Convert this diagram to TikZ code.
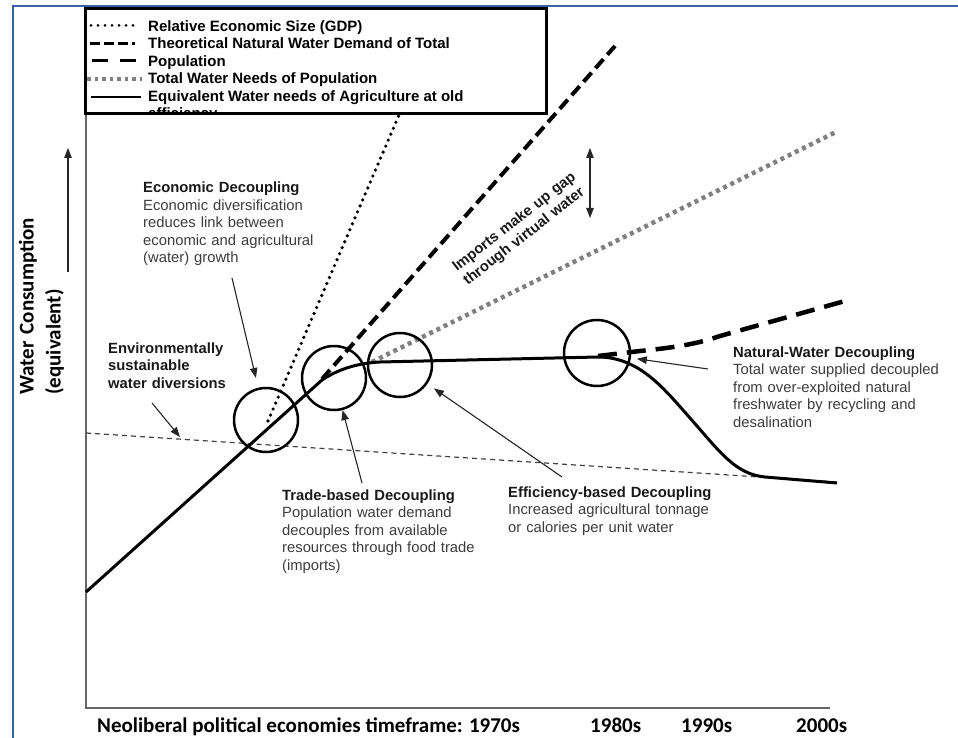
\documentclass[tikz,border=0pt]{standalone}
\usepackage{fontspec}
\setmainfont{Liberation Sans}
\newfontfamily\axisfont{Carlito}
\usetikzlibrary{arrows.meta}
\definecolor{frameblue}{RGB}{58,96,164}
\definecolor{notegray}{RGB}{60,60,60}
\definecolor{needsgray}{RGB}{128,128,128}
\newcommand{\notetitle}[1]{\textbf{\color{black!90}#1}}
\tikzset{
  ring/.style={circle, draw, line width=2.5pt, minimum size=64pt, inner sep=0pt},
  pointer/.style={->, draw=black!85, line width=1.1pt},
  note/.style={anchor=base west, inner sep=0pt, align=left, text width=240pt,
    font=\fontsize{14.8}{17.5}\selectfont, text=notegray},
  tag/.style={note, font=\bfseries\fontsize{14.8}{17.5}\selectfont, text=black!90},
  key/.style={anchor=base west, inner sep=0pt, font=\bfseries\fontsize{15}{17.5}\selectfont},
  axislabel/.style={anchor=base west, inner sep=0pt, font=\axisfont\bfseries\fontsize{21}{27}\selectfont},
  agri/.style={line width=3pt},
  gdp/.style={line width=3.6pt, dash pattern=on 0pt off 6.5pt, line cap=round},
  demand/.style={line width=4pt, dash pattern=on 12pt off 6pt},
  needs/.style={line width=4.5pt, needsgray, dash pattern=on 4pt off 4pt},
  pop/.style={line width=4.5pt, dash pattern=on 19pt off 10pt},
  limit/.style={line width=1.2pt, black!75, dash pattern=on 5pt off 4pt}
}
\begin{document}
\begin{tikzpicture}[x=1pt, y=-1pt, >={Triangle[length=10pt,width=7.5pt]}]
\useasboundingbox (0,0) rectangle (958,738);
\draw[frameblue, line width=2pt] (13,738) -- (13,6) -- (958,6);
\draw[black!60, line width=1.5pt] (86,112) -- (86,708) -- (830,708);

\draw[limit] (86,433) -- (836,482);
\draw[gdp] (268,421) -- (402,108);
\draw[demand] (322,379) -- (615,46);
\draw[needs] (372,362) -- (836,132);
\draw[pop] (598,356) -- (640,351) .. controls (680,347) and (700,343) .. (720,336) -- (845,301);
\draw[agri] (86,592) -- (322,380) .. controls (340,368) and (360,363) .. (380,362) -- (598,357)
  .. controls (640,357) and (665,390) .. (690,418) .. controls (720,452) and (735,474) .. (765,477) -- (837,483);

\node[ring] (econring) at (266,420) {};
\node[ring] (tradering) at (334,378) {};
\node[ring] (effring) at (400,365) {};
\node[ring, minimum size=66pt] (natring) at (597,353) {};

\node[note] (econ) at (143,193) {\notetitle{Economic Decoupling}\\Economic diversification\\reduces link between\\economic and agricultural\\(water) growth};
\node[tag] (env) at (108,353) {Environmentally\\sustainable\\water diversions};
\node[tag, rotate=38] (imports) at (457,272) {Imports make up gap\\through virtual water};
\node[note] (trade) at (282,500) {\notetitle{Trade-based Decoupling}\\Population water demand\\decouples from available\\resources through food trade\\(imports)};
\node[note] (eff) at (508,497) {\notetitle{Efficiency-based Decoupling}\\Increased agricultural tonnage\\or calories per unit water};
\node[note, text width=215pt] (nat) at (733,357) {\notetitle{Natural-Water Decoupling}\\Total water supplied decoupled\\from over-exploited natural\\freshwater by recycling and\\desalination};

\coordinate (econtail) at (232,278);
\coordinate (envtail) at (152,403);
\coordinate (envtip) at (180,437);
\coordinate (tradetail) at (362,483);
\coordinate (efftail) at (562,477);
\coordinate (nattail) at (708,369);
\coordinate (gaptop) at (590,148);
\coordinate (gapbottom) at (590,218);
\coordinate (ytail) at (68,272);
\coordinate (ytip) at (68,148);
\draw[pointer, shorten >=10pt] (econtail) -- (econring);
\draw[pointer] (envtail) -- (envtip);
\draw[pointer] (tradetail) -- (tradering);
\draw[pointer, shorten >=8pt] (efftail) -- (effring);
\draw[pointer, shorten >=6pt] (nattail) -- (natring);
\draw[pointer, <->] (gaptop) -- (gapbottom);
\draw[pointer] (ytail) -- (ytip);

\node[axislabel, rotate=90, align=left, text width=220pt] (ylabel) at (33.5,395) {Water Consumption\\(equivalent)};
\node[axislabel] (timeframe) at (97,732) {Neoliberal political economies timeframe: 1970s};
\node[axislabel] (eighties) at (590,732) {1980s};
\node[axislabel] (nineties) at (681,732) {1990s};
\node[axislabel] (noughties) at (796,732) {2000s};

\begin{scope}
\fill[white] (85,9) rectangle (546,114);
\clip (86.5,10.5) rectangle (544.5,112.5);
\draw[line width=3pt, dash pattern=on 0pt off 7pt, line cap=round] (91,25.5) -- (140,25.5);
\draw[line width=3pt, dash pattern=on 10pt off 4pt on 10pt off 4pt on 10pt off 4pt on 3pt off 10pt] (90,43.5) -- (141,43.5);
\draw[line width=3pt, dash pattern=on 16pt off 12pt] (92,61) -- (137,61);
\draw[line width=3.5pt, needsgray, dash pattern=on 3.5pt off 4pt] (87,79) -- (142,79);
\draw[line width=2.5pt] (91,97) -- (141,97);
\node[key] (gdpkey) at (148,31.5) {Relative Economic Size (GDP)};
\node[key] (demandkey) at (148,49) {Theoretical Natural Water Demand of Total};
\node[key] (popkey) at (148,66.5) {Population};
\node[key] (needskey) at (148,84) {Total Water Needs of Population};
\node[key] (agrikey) at (148,101.5) {Equivalent Water needs of Agriculture at old};
\node[key] (agrikeymore) at (148,119) {efficiency};
\end{scope}
\draw[line width=3pt] (85,9) rectangle (546,114);
\end{tikzpicture}
\end{document}
